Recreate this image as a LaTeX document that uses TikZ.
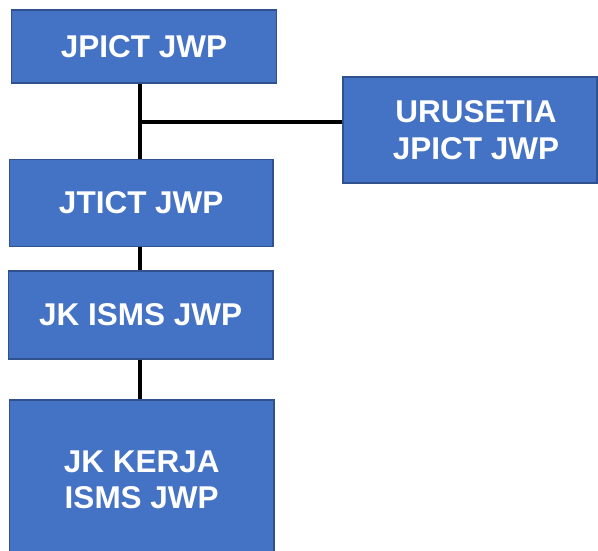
\documentclass[tikz,border=0pt]{standalone}
\usepackage{fontspec}
\setmainfont{Liberation Sans}
\definecolor{boxblue}{HTML}{4472C4}
\definecolor{boxedge}{HTML}{2F528F}

\tikzstyle{unit} = [rectangle, fill=boxblue, draw=boxedge, line width=1.4pt, inner sep=0pt,
  text=white, align=center, font=\bfseries\fontsize{31.5}{36.5}\selectfont]
\tikzstyle{link} = [line width=4pt, black]

\begin{document}
\begin{tikzpicture}[x=1pt,y=-1pt]
\useasboundingbox (0,0) rectangle (598,551);
\clip (0,0) rectangle (598,551);

% Boxes
\node [unit, minimum width=265pt, minimum height=73pt] (jpict) at (144,46.5) {JPICT JWP};
\node [unit, minimum width=254pt, minimum height=106pt] (urusetia) at (470,130) {\hspace*{12pt}URUSETIA\\\hspace*{12pt}JPICT JWP};
\node [unit, minimum width=263.5pt, minimum height=87.5pt] (jtict) at (141.25,203) {JTICT JWP};
\node [unit, minimum width=264.5pt, minimum height=88pt] (jkisms) at (140.75,315) {JK ISMS JWP};
\node [unit, minimum width=264.5pt, minimum height=160pt] (jkkerja) at (141.75,480) {JK KERJA\\ISMS JWP};

% Links
\coordinate (branch) at (140,122);
\draw [link] (branch |- jpict.south) -- (branch |- jtict.north);
\draw [link] (branch) -- (branch -| urusetia.west);
\draw [link] (branch |- jtict.south) -- (branch |- jkisms.north);
\draw [link] (branch |- jkisms.south) -- (branch |- jkkerja.north);

\end{tikzpicture}
\end{document}
